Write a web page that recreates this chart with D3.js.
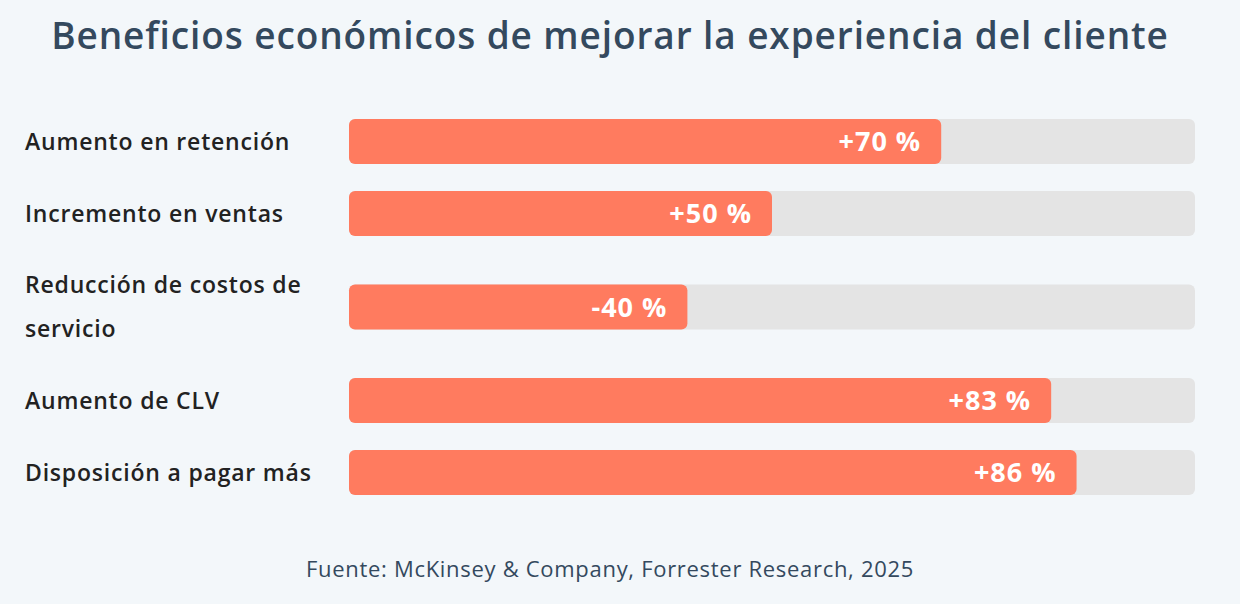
<!DOCTYPE html>
<html>
<head>
<meta charset="utf-8">
<script src="https://cdn.jsdelivr.net/npm/d3@7"></script>
<style>
  html, body { margin: 0; padding: 0; background: #f3f7fa; }
  svg { display: block; }
</style>
</head>
<body>
<div id="chart"></div>
<script>
const width = 1240;
const height = 604;

const categories = [
    "Aumento en retención",
    "Incremento en ventas",
    "Reducción de costos de servicio",
    "Aumento de CLV",
    "Disposición a pagar más"
];
const values = [70, 50, 40, 83, 86];
const valueLabels = ["+70 %", "+50 %", "-40 %", "+83 %", "+86 %"];

const title = "Beneficios económicos de mejorar la experiencia del cliente";
const source = "Fuente: McKinsey & Company, Forrester Research, 2025";

const fontFamily = "'Open Sans', Lato, sans-serif";
const barColor = "#ff7b5f";
const trackColor = "#e4e4e4";
const textColor = "#222222";
const titleColor = "#34495e";

const barLeft = 349, barRight = 1195;
const barHeight = 45;
const lineHeight = 44;
const rowGap = 27;
const labelX = 25;
const labelWidth = 322;

const svg = d3.select("#chart")
    .append("svg")
    .attr("width", width)
    .attr("height", height)
    .attr("viewBox", [0, 0, width, height]);

svg.append("rect")
    .attr("width", width)
    .attr("height", height)
    .attr("fill", "#f3f7fa");

svg.append("text")
    .attr("x", 610)
    .attr("y", 49)
    .attr("text-anchor", "middle")
    .attr("font-family", fontFamily)
    .attr("font-weight", 600)
    .attr("font-size", 37)
    .attr("letter-spacing", 0.9)
    .attr("fill", titleColor)
    .text(title);

const x = d3.scaleLinear()
    .domain([0, 100])
    .range([barLeft, barRight]);

// wrap labels to measure how tall every row is
const measure = svg.append("text")
    .attr("font-family", fontFamily)
    .attr("font-weight", 600)
    .attr("font-size", 23)
    .attr("letter-spacing", 0.8);

function wrap(str) {
    const words = str.split(" ");
    const lines = [];
    let line = [];
    words.forEach(w => {
        const test = line.concat(w).join(" ");
        measure.text(test);
        if (measure.node().getComputedTextLength() > labelWidth && line.length) {
            lines.push(line.join(" "));
            line = [w];
        } else {
            line.push(w);
        }
    });
    if (line.length) lines.push(line.join(" "));
    return lines;
}
const wrapped = categories.map(wrap);
measure.remove();

const rows = [];
let cursor = 119;
wrapped.forEach((lines, i) => {
    const h = Math.max(barHeight, lines.length * lineHeight);
    rows.push({ label: lines, value: values[i], text: valueLabels[i], cy: cursor + h / 2 });
    cursor += h + rowGap;
});

const row = svg.selectAll("g.row")
    .data(rows)
    .join("g")
    .attr("class", "row")
    .attr("transform", d => `translate(0, ${d.cy})`);

row.append("text")
    .attr("font-family", fontFamily)
    .attr("font-weight", 600)
    .attr("font-size", 23)
    .attr("letter-spacing", 0.8)
    .attr("fill", textColor)
    .selectAll("tspan")
    .data(d => d.label.map((l, j) => ({ l, j, n: d.label.length })))
    .join("tspan")
    .attr("x", labelX)
    .attr("y", d => (d.j - (d.n - 1) / 2) * lineHeight)
    .attr("dy", "0.35em")
    .text(d => d.l);

row.append("rect")
    .attr("x", x(0))
    .attr("y", -barHeight / 2)
    .attr("width", x(100) - x(0))
    .attr("height", barHeight)
    .attr("rx", 6)
    .attr("fill", trackColor);

row.append("rect")
    .attr("x", x(0))
    .attr("y", -barHeight / 2)
    .attr("width", d => x(d.value) - x(0))
    .attr("height", barHeight)
    .attr("rx", 6)
    .attr("fill", barColor);

row.append("text")
    .attr("x", d => x(d.value) - 20)
    .attr("dy", "0.36em")
    .attr("text-anchor", "end")
    .attr("font-family", fontFamily)
    .attr("font-weight", 700)
    .attr("font-size", 27)
    .attr("letter-spacing", 1)
    .attr("fill", "#ffffff")
    .text(d => d.text);

svg.append("text")
    .attr("x", 610)
    .attr("y", 577)
    .attr("text-anchor", "middle")
    .attr("font-family", fontFamily)
    .attr("font-size", 22)
    .attr("letter-spacing", 0.7)
    .attr("fill", titleColor)
    .text(source);
</script>
</body>
</html>
